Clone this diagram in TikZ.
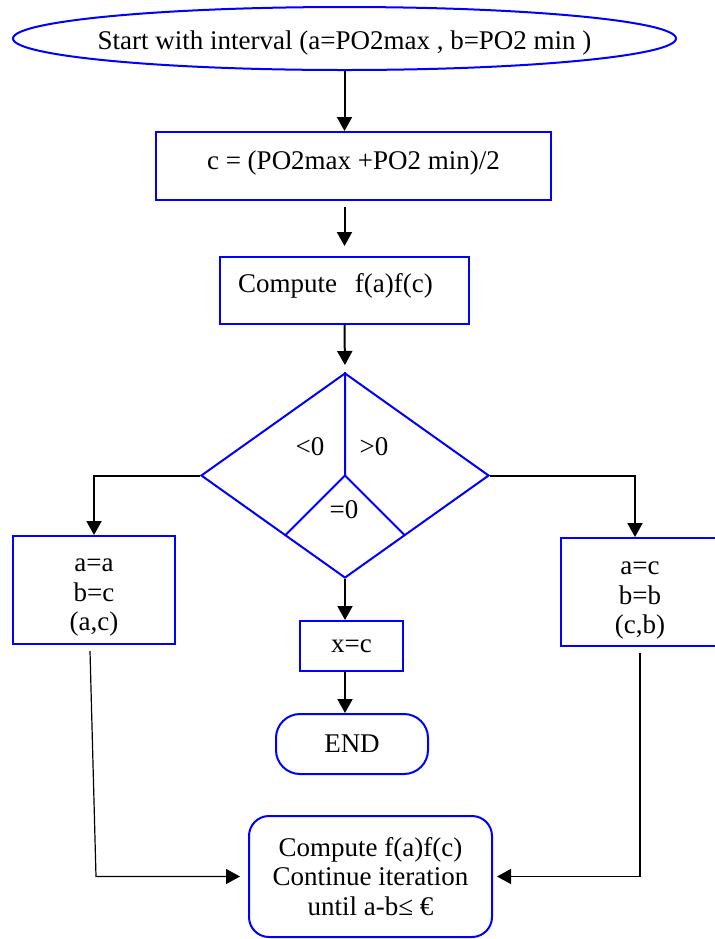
\documentclass[tikz,border=0pt]{standalone}
\usepackage{fontspec}
\setmainfont{Liberation Serif}
\usetikzlibrary{shapes.geometric,arrows.meta,calc}

\begin{document}
\begin{tikzpicture}[x=0.5pt, y=-0.5pt, font=\fontsize{13.5}{14.75}\selectfont,
        box/.style={draw=blue, line width=1pt, inner sep=0pt, align=center},
        flow/.style={line width=1pt, -{Triangle[length=7pt,width=7.5pt]}},
        ret/.style={line width=0.6pt, -{Triangle[length=7pt,width=7.5pt]}}]
        \useasboundingbox (0,0) rectangle (714,939);
        \node[box, ellipse, minimum width=331.5pt, minimum height=31.5pt, text height=13.8pt] (start) at (344.5,38.5) {\makebox[0pt]{Start with interval (a=PO2max , b=PO2 min )}};
        \node[box, rectangle, minimum width=197.5pt, minimum height=34pt, text depth=6.3pt] (mid) at (353.5,166) {c = (PO2max +PO2 min)/2};
        \node[box, rectangle, text width=106.5pt, inner xsep=9pt, align=left, minimum height=33.5pt, text depth=7.8pt] (comp) at (344.5,290.5) {Compute\ \ f(a)f(c)};
        \node[box, diamond, minimum width=144pt, minimum height=102.5pt] (dia) at (345,475.5) {};
        \draw[blue, line width=1pt] (dia.north) -- (dia.center) -- ($(dia.center)+(-60,60)$);
        \draw[blue, line width=1pt] (dia.center) -- ($(dia.center)+(60,60)$);
        \node (lt) at (310,447) {<0};
        \node (gt) at (374,447) {>0};
        \node (eq) at (344,510) {=0};
        \node[box, minimum width=81pt, minimum height=54pt, text height=43.7pt] (lb) at (94,590) {a=a\\b=c\\(a,c)};
        \node[box, minimum width=79pt, minimum height=54pt, text height=44.7pt] (rb) at (640,592) {a=c\\b=b\\(c,b)};
        \node[box, minimum width=51.5pt, minimum height=25pt] (xc) at (351.5,646) {x=c};
        \node[box, rounded corners=12pt, minimum width=76pt, minimum height=30pt] (stop) at (352,744) {END};
        \node[box, rounded corners=10pt, minimum width=121.5pt, minimum height=60.5pt] (iter) at (370.5,876.5) {Compute f(a)f(c)\\Continue iteration\\until a-b≤ €};
        % main column
        \draw[flow] (start.south) -- (start.south |- mid.north);
        \draw[flow, shorten <=3pt, shorten >=5pt] (start.south |- mid.south) -- (start.south |- comp.north);
        \draw[flow, shorten >=3.5pt] (comp.south) -- (dia.north);
        \draw[flow] (dia.south) -- (dia.south |- xc.north);
        \draw[flow] (dia.south |- xc.south) -- (dia.south |- stop.north);
        % branches
        \draw[flow] (dia.west) -| (lb.north);
        \draw[flow] (dia.east) -| ([xshift=-2.5pt]rb.north);
        \draw[ret, shorten >=4pt] ([xshift=-2pt,yshift=-3pt]lb.south) -- ([xshift=1pt]lb.south |- iter.west) -- (iter.west);
        \draw[ret, shorten <=3pt, shorten >=2pt] (rb.south) |- (iter.east);
\end{tikzpicture}
\end{document}
